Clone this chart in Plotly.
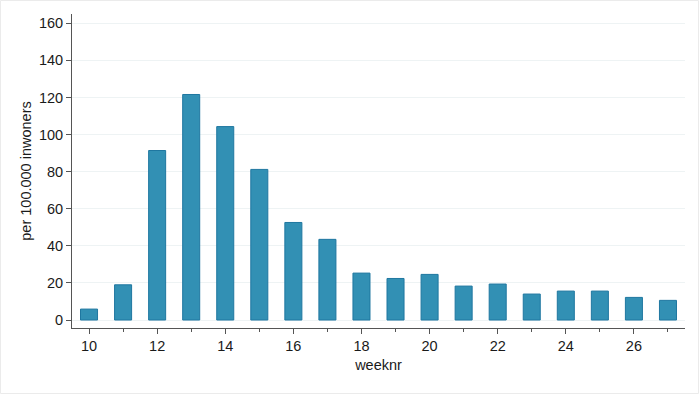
import plotly.graph_objects as go

weeks = list(range(10, 28))
values = [5.9, 19.0, 91.4, 121.6, 104.3, 81.2, 52.6, 43.5, 25.3, 22.4, 24.6, 18.3, 19.4, 14.0, 15.6, 15.6, 12.2, 10.6]
y_ticks = [0, 20, 40, 60, 80, 100, 120, 140, 160]
x_ticks = list(range(10, 28, 2))

W, H = 700, 395
L, R, T, B = 72, 15, 14, 67
pw, ph = W - L - R, H - T - B
FS = 14.5

fig = go.Figure(go.Bar(
    x=weeks, y=values, width=0.5,
    marker=dict(color="#3290b4", line=dict(color="#1f77a0", width=1)),
))

fig.update_layout(
    width=W, height=H,
    margin=dict(l=L, r=R, t=T, b=B),
    paper_bgcolor="white", plot_bgcolor="white",
    font=dict(family="Liberation Sans, Arial, sans-serif", size=FS, color="#1a1a1a"),
    showlegend=False,
    shapes=[dict(type="rect", xref="paper", yref="paper",
                 x0=(0.5 - L) / pw, x1=(W - 1.5 - L) / pw,
                 y0=(H - B - (H - 1.5)) / ph, y1=(H - B - 0.5) / ph,
                 line=dict(color="#ebebeb", width=1), layer="below")],
)
fig.update_xaxes(
    range=[9.5, 27.5], tickvals=x_ticks, ticktext=[str(v) for v in x_ticks],
    showline=True, linecolor="#555", linewidth=1,
    ticks="outside", ticklen=5, tickcolor="#555",
    minor=dict(dtick=1, tick0=10, ticks="outside", ticklen=3, tickcolor="#555", showgrid=False),
    showgrid=False, zeroline=False, automargin=False,
    tickfont=dict(size=FS),
    title=dict(text="weeknr", standoff=6, font=dict(size=FS)),
)
fig.update_yaxes(
    range=[-4.3, 165], tickvals=y_ticks,
    showline=True, linecolor="#555", linewidth=1,
    ticks="outside", ticklen=5, tickcolor="#555",
    showgrid=True, gridcolor="#eef3f4", gridwidth=1, zeroline=False, automargin=False,
    tickfont=dict(size=FS),
    title=dict(text="per 100.000 inwoners", standoff=3, font=dict(size=FS)),
)

fig.write_html("out.html", config={"displayModeBar": False},
               post_script="document.body.style.margin='0';document.body.style.padding='0';")
